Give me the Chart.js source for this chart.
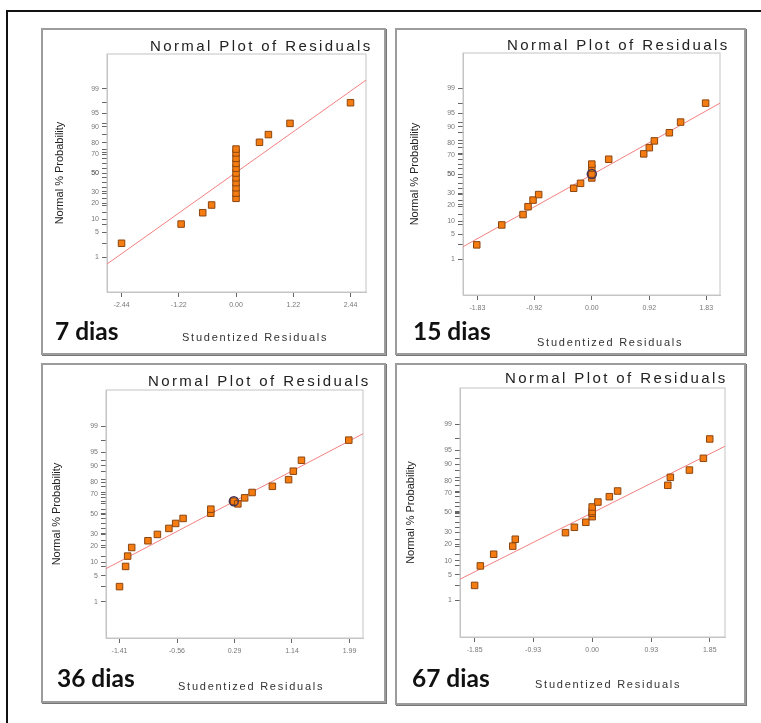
<!DOCTYPE html>
<html lang="pt-br">
<head>
  <meta charset="UTF-8" />
  <title>Normal Plot of Residuals</title>
  <script src="https://cdn.jsdelivr.net/npm/chart.js"></script>
  <style>
    * {
      box-sizing: border-box;
      margin: 0;
      padding: 0;
    }

    body {
      width: 761px;
      height: 723px;
      overflow: hidden;
      position: relative;
      background: #fff;
      font-family: "Liberation Sans", Arial, sans-serif;
    }

    .moldura {
      position: absolute;
      left: 6px;
      top: 10px;
      width: 800px;
      height: 800px;
      border-left: 2px solid #111;
      border-top: 2px solid #111;
    }

    .painel {
      position: absolute;
      border: 2px solid #9c9c9c;
      box-shadow: 1px 1px 0 #777;
      background: #fff;
    }

    .painel div {
      position: absolute;
      inset: 0;
    }

    .titulo {
      position: absolute;
      font-size: 15px;
      line-height: 17px;
      letter-spacing: 2.4px;
      color: #222;
      white-space: nowrap;
    }

    .eixoX {
      position: absolute;
      font-size: 11px;
      line-height: 12px;
      letter-spacing: 1.75px;
      color: #333;
      white-space: nowrap;
    }

    .dias {
      position: absolute;
      font-family: Lato, sans-serif;
      font-weight: 700;
      font-size: 24.5px;
      line-height: 24px;
      color: #111;
      white-space: nowrap;
    }
  </style>
</head>
<body>
  <div class="moldura"></div>

  <div class="painel" style="left:41px; top:28px; width:345px; height:327px;"><div><canvas id="g7"></canvas></div></div>
  <div class="painel" style="left:395px; top:28px; width:351px; height:327px;"><div><canvas id="g15"></canvas></div></div>
  <div class="painel" style="left:41px; top:363px; width:345px; height:340px;"><div><canvas id="g36"></canvas></div></div>
  <div class="painel" style="left:395px; top:363px; width:351px; height:342px;"><div><canvas id="g67"></canvas></div></div>

  <div class="titulo" style="left:150px; top:37px;">Normal Plot of Residuals</div>
  <div class="titulo" style="left:507px; top:36px;">Normal Plot of Residuals</div>
  <div class="titulo" style="left:148px; top:372px;">Normal Plot of Residuals</div>
  <div class="titulo" style="left:505px; top:369px;">Normal Plot of Residuals</div>

  <div class="eixoX" style="left:182px; top:331px;">Studentized Residuals</div>
  <div class="eixoX" style="left:537px; top:336px;">Studentized Residuals</div>
  <div class="eixoX" style="left:178px; top:680px;">Studentized Residuals</div>
  <div class="eixoX" style="left:535px; top:678px;">Studentized Residuals</div>

  <div class="dias" style="left:55px; top:319px;">7 dias</div>
  <div class="dias" style="left:413px; top:319px;">15 dias</div>
  <div class="dias" style="left:57px; top:666px;">36 dias</div>
  <div class="dias" style="left:412px; top:666px;">67 dias</div>

<script>
  // marcas com rotulo no eixo de probabilidade normal (%)
  const rotulosY = [1, 5, 10, 20, 30, 50, 70, 80, 90, 95, 99];

  // 7 dias
  const res7 = [-2.44, -1.17, -0.71, -0.52, 0, 0, 0, 0, 0, 0, 0, 0, 0, 0, 0, 0.50, 0.69, 1.15, 2.44];
  const prob7 = [2.6, 7.9, 13.6, 18.8, 24.2, 28.9, 34.2, 39.5, 44.7, 50.0, 55.3, 60.5, 65.8, 71.1, 74.6, 80.2, 85.6, 91.5, 97.4];
  const ticks7 = [-2.44, -1.22, 0, 1.22, 2.44];
  const rotulos7 = ["-2.44", "-1.22", "0.00", "1.22", "2.44"];
  const faixa7 = [-2.75, 2.77];
  const linha7 = [0.59, 99.49];
  const destaque7X = [];
  const destaque7Y = [];

  // 15 dias
  const res15 = [-1.84, -1.44, -1.10, -1.02, -0.94, -0.85, -0.29, -0.18, 0, 0, 0, 0, 0.27, 0.83, 0.92, 1.00, 1.24, 1.42, 1.82];
  const prob15 = [2.7, 8.3, 13.5, 18.7, 23.9, 28.8, 34.9, 40.0, 45.7, 50.0, 56.4, 60.6, 65.6, 70.8, 76.3, 81.6, 86.9, 92.1, 97.3];
  const ticks15 = [-1.83, -0.92, 0, 0.92, 1.83];
  const rotulos15 = ["-1.83", "-0.92", "0.00", "0.92", "1.83"];
  const faixa15 = [-2.06, 2.05];
  const linha15 = [2.4, 97.3];
  const destaque15X = [0];
  const destaque15Y = [50.0];

  // 36 dias
  const res36 = [-1.41, -1.32, -1.29, -1.23, -0.99, -0.85, -0.68, -0.58, -0.47, -0.06, -0.06, 0.28, 0.34, 0.44, 0.55, 0.85, 1.09, 1.16, 1.28, 1.98];
  const prob36 = [2.7, 8.2, 13.2, 18.7, 23.9, 29.4, 35.1, 40.1, 45.3, 50.8, 55.1, 63.3, 60.6, 66.6, 71.6, 76.9, 81.9, 87.2, 92.3, 97.5];
  const ticks36 = [-1.41, -0.56, 0.29, 1.14, 1.99];
  const rotulos36 = ["-1.41", "-0.56", "0.29", "1.14", "1.99"];
  const faixa36 = [-1.61, 2.19];
  const linha36 = [7.35, 98.34];
  const destaque36X = [0.28];
  const destaque36Y = [63.3];

  // 67 dias
  const res67 = [-1.85, -1.76, -1.55, -1.25, -1.21, -0.42, -0.28, -0.10, 0, 0, 0, 0, 0.09, 0.27, 0.40, 1.19, 1.23, 1.53, 1.75, 1.85];
  const prob67 = [2.7, 7.9, 13.5, 18.7, 24.0, 29.7, 34.8, 39.8, 45.6, 49.2, 51.0, 55.8, 60.9, 66.2, 71.5, 76.4, 82.4, 86.9, 92.4, 97.4];
  const ticks67 = [-1.85, -0.93, 0, 0.93, 1.85];
  const rotulos67 = ["-1.85", "-0.93", "0.00", "0.93", "1.85"];
  const faixa67 = [-2.08, 2.09];
  const linha67 = [3.9, 96.0];
  const destaque67X = [];
  const destaque67Y = [];

  // inversa da normal acumulada (Acklam), p em %
  function probit(pct) {
    const p = pct / 100;
    const a = [-39.69683028665376, 220.9460984245205, -275.9285104469687, 138.3577518672690, -30.66479806614716, 2.506628277459239];
    const b = [-54.47609879822406, 161.5858368580409, -155.6989798598866, 66.80131188771972, -13.28068155288572];
    const c = [-0.007784894002430293, -0.3223964580411365, -2.400758277161838, -2.549732539343734, 4.374664141464968, 2.938163982698783];
    const d = [0.007784695709041462, 0.3224671290700398, 2.445134137142996, 3.754408661907416];
    const lim = 0.02425;
    if (p < lim) {
      const q = Math.sqrt(-2 * Math.log(p));
      return (((((c[0] * q + c[1]) * q + c[2]) * q + c[3]) * q + c[4]) * q + c[5]) /
        ((((d[0] * q + d[1]) * q + d[2]) * q + d[3]) * q + 1);
    }
    if (p > 1 - lim) {
      const q = Math.sqrt(-2 * Math.log(1 - p));
      return -(((((c[0] * q + c[1]) * q + c[2]) * q + c[3]) * q + c[4]) * q + c[5]) /
        ((((d[0] * q + d[1]) * q + d[2]) * q + d[3]) * q + 1);
    }
    const q = p - 0.5;
    const r = q * q;
    return (((((a[0] * r + a[1]) * r + a[2]) * r + a[3]) * r + a[4]) * r + a[5]) * q /
      (((((b[0] * r + b[1]) * r + b[2]) * r + b[3]) * r + b[4]) * r + 1);
  }

  // escala de probabilidade normal
  class ProbitScale extends Chart.Scale {
    static id = "probit";
    static defaults = {};

    determineDataLimits() {
      this.min = this.options.min;
      this.max = this.options.max;
    }

    buildTicks() {
      return [];
    }

    configure() {
      super.configure();
      this._zMin = probit(this.min);
      this._zRange = probit(this.max) - this._zMin;
    }

    getLabelForValue(v) {
      return String(v);
    }

    getPixelForValue(v) {
      return this.getPixelForDecimal((probit(v) - this._zMin) / this._zRange);
    }

    getPixelForTick(i) {
      return this.getPixelForValue(this.ticks[i].value);
    }

    getValueForPixel() {
      return 50;
    }
  }
  Chart.register(ProbitScale);

  const caixa = {
    id: "caixa",
    beforeDatasetsDraw(chart) {
      const { ctx, chartArea: a } = chart;
      ctx.save();
      ctx.strokeStyle = "#c4c4c4";
      ctx.lineWidth = 1;
      ctx.strokeRect(a.left, a.top, a.right - a.left, a.bottom - a.top);
      ctx.restore();
    },
  };

  function pares(xs, ys) {
    return xs.map((x, i) => ({ x: x, y: ys[i] }));
  }

  function desenharGrafico(id, d, m) {
    const fonteTick = { family: "Liberation Sans", size: 7 };
    new Chart(document.getElementById(id), {
      type: "scatter",
      data: {
        datasets: [
          {
            data: pares(d.faixa, d.linha),
            showLine: true,
            borderColor: "#f28080",
            borderWidth: 1,
            pointRadius: 0,
            order: 3,
          },
          {
            data: pares(d.res, d.prob),
            pointStyle: "rect",
            pointRadius: 4.6,
            backgroundColor: "#f47c10",
            borderColor: "#8c4612",
            borderWidth: 1,
            order: 2,
          },
          {
            data: pares(d.destX, d.destY),
            pointStyle: "circle",
            pointRadius: 4.5,
            backgroundColor: "rgba(0,0,0,0)",
            borderColor: "#4b3552",
            borderWidth: 1.5,
            order: 1,
          },
        ],
      },
      options: {
        responsive: true,
        maintainAspectRatio: false,
        animation: false,
        events: [],
        layout: { autoPadding: false, padding: { left: 0, top: m.top, right: m.right, bottom: 0 } },
        plugins: { legend: { display: false }, tooltip: { enabled: false } },
        scales: {
          x: {
            type: "linear",
            min: d.faixa[0],
            max: d.faixa[1],
            afterBuildTicks: (s) => { s.ticks = d.ticks.map((v) => ({ value: v })); },
            afterFit: (s) => { s.height = m.bottom; },
            ticks: {
              autoSkip: false,
              maxRotation: 0,
              padding: 4,
              color: "#777",
              font: fonteTick,
              callback: (v, i) => d.rotulos[i],
            },
            grid: { drawOnChartArea: false, tickLength: 5, color: "#666" },
            border: { color: "#c4c4c4" },
          },
          y: {
            type: "probit",
            min: 0.05,
            max: 99.95,
            afterBuildTicks: (s) => { s.ticks = rotulosY.concat(d.prob).map((v) => ({ value: v })); },
            afterFit: (s) => { s.width = m.left; },
            ticks: {
              autoSkip: false,
              padding: 3,
              color: "#777",
              font: fonteTick,
              callback: (v) => (rotulosY.includes(v) ? String(v) : ""),
            },
            grid: { drawOnChartArea: false, tickLength: 5, color: "#666" },
            border: { color: "#c4c4c4" },
            title: {
              display: true,
              text: "Normal % Probability",
              color: "#222",
              font: { family: "Liberation Sans", size: 11 },
              padding: { top: m.titulo, bottom: 0 },
            },
          },
        },
      },
      plugins: [caixa],
    });
  }

  desenharGrafico("g7",
    { res: res7, prob: prob7, ticks: ticks7, rotulos: rotulos7, faixa: faixa7, linha: linha7, destX: destaque7X, destY: destaque7Y },
    { left: 64, top: 24, right: 18, bottom: 61, titulo: 10.4 });
  desenharGrafico("g15",
    { res: res15, prob: prob15, ticks: ticks15, rotulos: rotulos15, faixa: faixa15, linha: linha15, destX: destaque15X, destY: destaque15Y },
    { left: 66, top: 23, right: 24, bottom: 58, titulo: 11.4 });
  desenharGrafico("g36",
    { res: res36, prob: prob36, ticks: ticks36, rotulos: rotulos36, faixa: faixa36, linha: linha36, destX: destaque36X, destY: destaque36Y },
    { left: 63, top: 25, right: 21, bottom: 63, titulo: 7.4 });
  desenharGrafico("g67",
    { res: res67, prob: prob67, ticks: ticks67, rotulos: rotulos67, faixa: faixa67, linha: linha67, destX: destaque67X, destY: destaque67Y },
    { left: 63, top: 23, right: 19, bottom: 66, titulo: 7.4 });
</script>
</body>
</html>
